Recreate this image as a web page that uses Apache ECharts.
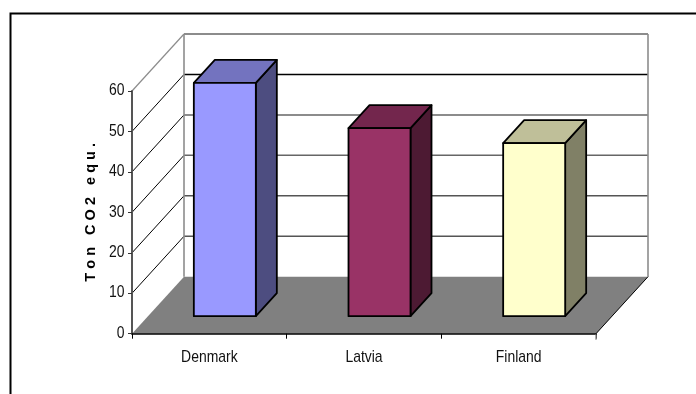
<!DOCTYPE html>
<html><head><meta charset="utf-8">
<style>html,body{margin:0;padding:0;background:#fff}#c{width:696px;height:394px}</style>
<script src="https://cdn.jsdelivr.net/npm/echarts@6/dist/echarts.min.js"></script>
</head><body><div id="c"></div>
<script>
const categories = ['Denmark', 'Latvia', 'Finland'];
const values = [57.7, 46.5, 42.8];
const yTickLabels = [0, 10, 20, 30, 40, 50, 60];
const barColors = ['#9999ff', '#993366', '#ffffcc'];
const topColors = ['#7373bf', '#73264d', '#bfbf99'];
const sideColors = ['#4d4d80', '#4d1a33', '#808066'];
const gridTicks = [10, 20, 30, 40, 50];
const gridColors = ['#555555', '#555555', '#666666', '#666666', '#000000'];
const yMax = 60;

// Oblique projection offsets, in pixels
const DX = 52, DY = -57;       // front of floor to back wall
const BAR_DX = 15.5, BAR_DY = -17.5; // front of floor to front of bar
const BAR_DEPTH_X = 21, BAR_DEPTH_Y = -23;
const BAR_W = 62;
const LABEL_FONT = '17px "Liberation Sans", Arial, sans-serif';
const LABEL_SQUEEZE = 0.82;

function poly(pts, fill, stroke, lw) {
  return { type: 'polygon', shape: { points: pts },
    style: { fill: fill || 'none', stroke: stroke || 'none', lineWidth: lw || 0, lineJoin: 'round' } };
}
function line(a, b, color, lw) {
  return { type: 'line', shape: { x1: a[0], y1: a[1], x2: b[0], y2: b[1] },
    style: { stroke: color, lineWidth: lw, fill: 'none' } };
}
function label(str, x, y, align) {
  return { type: 'text', x: x, y: y, scaleX: LABEL_SQUEEZE,
    style: { text: String(str), x: 0, y: 0, align: align, verticalAlign: 'middle', font: LABEL_FONT, fill: '#111' } };
}

const chart = echarts.init(document.getElementById('c'), null, { renderer: 'canvas' });

chart.setOption({
  animation: false,
  backgroundColor: '#ffffff',
  graphic: [{
    type: 'polyline', silent: true, z: 0,
    shape: { points: [[10.5, 394], [10.5, 13.5], [696, 13.5]] },
    style: { stroke: '#000', lineWidth: 2, fill: 'none' }
  }],
  grid: { left: 132, top: 91, width: 464, height: 242.7, containLabel: false },
  xAxis: {
    type: 'category', data: categories, boundaryGap: true, z: 5,
    axisLine: { lineStyle: { color: '#000', width: 1.5 } },
    axisTick: { show: true, alignWithLabel: false, length: 5, lineStyle: { color: '#000', width: 1 } },
    axisLabel: { show: false }
  },
  yAxis: {
    type: 'value', min: 0, max: yMax, interval: 10, z: 5,
    name: 'T o n   C O 2   e q u .', nameLocation: 'middle', nameGap: 34, nameRotate: 90,
    nameTextStyle: { color: '#000', fontFamily: 'Liberation Sans', fontWeight: 'bold', fontSize: 14.5, padding: [0, 0, 0, 0] },
    axisLine: { show: true, lineStyle: { color: '#555', width: 2 } },
    axisTick: { show: true, length: 4, lineStyle: { color: '#333', width: 1 } },
    axisLabel: { show: false },
    splitLine: { show: false }
  },
  series: [
    {
      // walls, floor, gridlines
      type: 'custom', coordinateSystem: 'cartesian2d', silent: true, z: 1,
      data: [0], clip: false,
      renderItem(params, api) {
        const x0 = params.coordSys.x;
        const x1 = x0 + params.coordSys.width;
        const yOf = v => api.coord([0, v])[1];
        const y0 = yOf(0), yT = yOf(yMax);
        const kids = [];
        kids.push(poly([[x0, y0], [x1, y0], [x1 + DX, y0 + DY], [x0 + DX, y0 + DY]], '#808080'));
        gridTicks.forEach((t, i) => {
          const y = yOf(t);
          kids.push(line([x0, y], [x0 + DX, y + DY], '#000', 1));
          kids.push(line([x0 + DX, y + DY], [x1 + DX, y + DY], gridColors[i], 1.5));
        });
        kids.push(line([x0, yT], [x0 + DX, yT + DY], '#8c8c8c', 1.2));
        kids.push(line([x0 + DX, yT + DY], [x1 + DX, yT + DY], '#8c8c8c', 2));
        kids.push(line([x0 + DX, y0 + DY], [x0 + DX, yT + DY], '#8c8c8c', 1.6));
        kids.push(line([x1 + DX, y0 + DY], [x1 + DX, yT + DY], '#8c8c8c', 1.6));
        kids.push(line([x1, y0], [x1 + DX, y0 + DY], '#000', 1));
        return { type: 'group', children: kids };
      }
    },
    {
      // 3D bars
      type: 'custom', coordinateSystem: 'cartesian2d', silent: true, z: 3,
      encode: { x: 0, y: 1 }, clip: false,
      data: categories.map((c, i) => [i, values[i]]),
      renderItem(params, api) {
        const i = api.value(0);
        const c = api.coord([i, 0]), t = api.coord([i, api.value(1)]);
        const l = c[0] - BAR_W / 2 + BAR_DX, r = l + BAR_W;
        const b = c[1] + BAR_DY, tp = t[1] + BAR_DY;
        const dx = BAR_DEPTH_X, dy = BAR_DEPTH_Y, s = '#000', w = 1.8;
        return { type: 'group', children: [
          poly([[r, b], [r + dx, b + dy], [r + dx, tp + dy], [r, tp]], sideColors[i], s, w),
          poly([[l, tp], [r, tp], [r + dx, tp + dy], [l + dx, tp + dy]], topColors[i], s, w),
          poly([[l, b], [r, b], [r, tp], [l, tp]], barColors[i], s, w)
        ] };
      }
    },
    {
      // squeezed tick labels and the grey closing tick
      type: 'custom', coordinateSystem: 'cartesian2d', silent: true, z: 6,
      data: [0], clip: false,
      renderItem(params, api) {
        const kids = [];
        categories.forEach((name, i) => {
          const p = api.coord([i, 0]);
          kids.push(label(name, p[0], p[1] + 24, 'center'));
        });
        yTickLabels.forEach(v => {
          const p = api.coord([0, v]);
          kids.push(label(v, params.coordSys.x - 7.5, p[1] - 0.5, 'right'));
        });
        const xr = params.coordSys.x + params.coordSys.width, y0 = api.coord([0, 0])[1];
        kids.push(line([xr, y0 + 0.8], [xr, y0 + 6], '#8c8c8c', 1.4));
        return { type: 'group', children: kids };
      }
    }
  ]
});
</script></body></html>
